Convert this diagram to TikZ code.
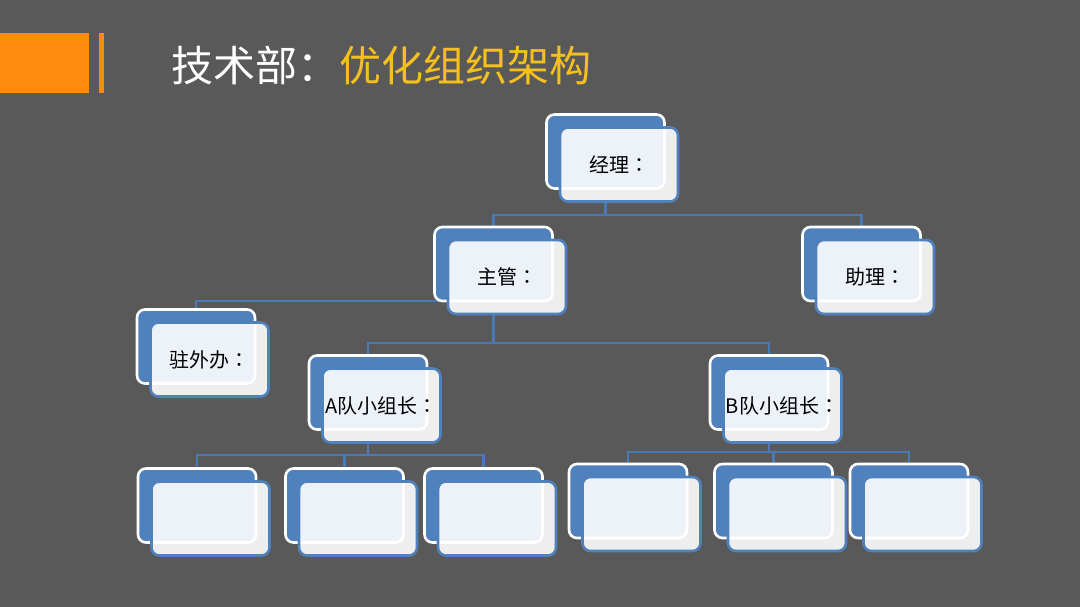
\documentclass[tikz,border=0pt]{standalone}
\usepackage{fontspec}
\newfontfamily\cjk{Noto Sans CJK SC}
\newfontfamily\cjkc{Noto Sans CJK TC}
\newcommand\qcolon{{\cjkc ：}}
\definecolor{bgc}{HTML}{595959}
\definecolor{orgc}{HTML}{FD8B0C}
\definecolor{ttlY}{HTML}{F5C01E}
\definecolor{blu}{HTML}{4F81BD}
\definecolor{conc}{HTML}{4A7AB5}
\pgfdeclarelayer{bglayer}
\pgfdeclarelayer{connlayer}
\pgfsetlayers{bglayer,connlayer,main}
\tikzset{
  backbox/.style={draw=white, line width=2.6pt, fill=blu, rounded corners=8pt,
    minimum width=118pt, minimum height=74pt, inner sep=0pt},
  frontbox/.style={draw=blu, line width=2.6pt, fill=white, fill opacity=0.9, text opacity=1,
    rounded corners=8pt, minimum width=118pt, minimum height=74pt, inner sep=0pt,
    font=\cjk\fontsize{20}{20}\selectfont, text=black},
  conn/.style={draw=conc, line width=2.8pt},
}
\newcommand\orgnode[4]{%
  \node[backbox] (#1B) at (#2,#3) {};
  \node[frontbox] (#1) at ([shift={(13.5,13)}]#1B.center) {#4};}
\begin{document}
\begin{tikzpicture}[x=1pt,y=-1pt]
\begin{pgfonlayer}{bglayer}
  \fill[bgc] (0,0) rectangle (1080,607);
\end{pgfonlayer}
\useasboundingbox (0,0) rectangle (1080,607);
% title decoration
\fill[orgc] (0,33) rectangle (89,93);
\fill[orgc] (99,33) rectangle (103.5,93);
\node[anchor=west, inner sep=0pt, font=\cjk\fontsize{42}{42}\selectfont] (title) at (171,65)
  {\textcolor{white}{技术部：}\textcolor{ttlY}{优化组织架构}};
% boxes
\orgnode{jl}{605.5}{151.5}{经理\qcolon}
\orgnode{zg}{493.5}{264}{主管\qcolon}
\orgnode{zl}{861.5}{264}{助理\qcolon}
\orgnode{zw}{196}{346.5}{驻外办\qcolon}
\orgnode{a}{368}{392.5}{A队小组长\qcolon}
\orgnode{b}{769}{392.5}{B队小组长\qcolon}
\orgnode{aa}{197}{505.5}{}
\orgnode{ab}{344.5}{505.5}{}
\orgnode{ac}{483.5}{505.5}{}
\orgnode{ba}{628}{501}{}
\orgnode{bb}{773.5}{501}{}
\orgnode{bc}{909}{501}{}
% bus levels
\coordinate (l1) at (0,215);
\coordinate (l2) at (0,301);
\coordinate (l3) at (0,343);
\coordinate (l4) at (0,455);
\coordinate (l5) at (0,452);
\begin{pgfonlayer}{connlayer}
  \draw[conn] (jlB.south |- jl.south) -- (jlB.south |- l1) -| (zgB.north);
  \draw[conn] (jlB.south |- l1) -| (zlB.north);
  \draw[conn] (zgB.south |- l2) -| (zwB.north);
  \draw[conn] (zgB.south |- zg.south) -- (zgB.south |- l3) -| (aB.north);
  \draw[conn] (zgB.south |- l3) -| (bB.north);
  \draw[conn] (aB.south |- a.south) -- (aB.south |- l4) -| (aaB.north);
  \draw[conn] (aB.south |- l4) -| (abB.north);
  \draw[conn] (aB.south |- l4) -| (acB.north);
  \draw[conn] (bB.south |- b.south) -- (bB.south |- l5) -| (baB.north);
  \draw[conn] (bB.south |- l5) -| (bbB.north);
  \draw[conn] (bB.south |- l5) -| (bcB.north);
\end{pgfonlayer}
\end{tikzpicture}
\end{document}
